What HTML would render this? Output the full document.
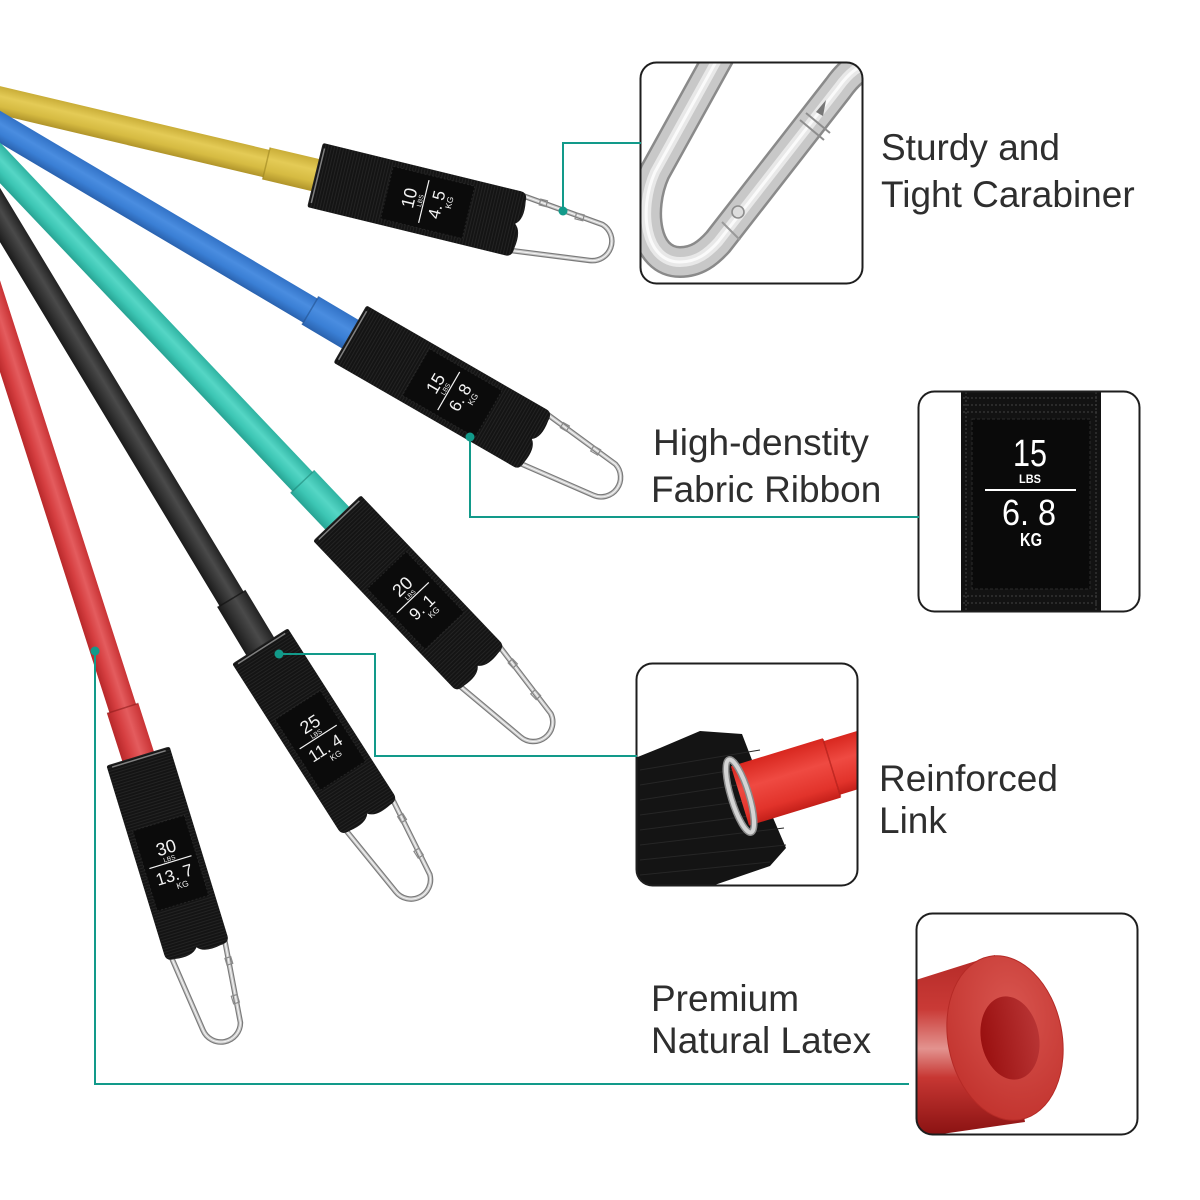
<!DOCTYPE html>
<html>
<head>
<meta charset="utf-8">
<style>
  html,body{margin:0;padding:0;background:#fff;}
  svg{display:block;}
  text{font-family:"Liberation Sans",Arial,sans-serif;}
</style>
</head>
<body>
<svg width="1200" height="1200" viewBox="0 0 1200 1200" xmlns="http://www.w3.org/2000/svg">
  <defs>
    <linearGradient id="gY" x1="0" y1="0" x2="0" y2="1">
      <stop offset="0" stop-color="#c9ad38"/><stop offset=".35" stop-color="#e4cb56"/>
      <stop offset=".7" stop-color="#d6bb42"/><stop offset="1" stop-color="#b0942a"/>
    </linearGradient>
    <linearGradient id="gB" x1="0" y1="0" x2="0" y2="1">
      <stop offset="0" stop-color="#3272c6"/><stop offset=".4" stop-color="#4a8de0"/>
      <stop offset=".7" stop-color="#3a7fd5"/><stop offset="1" stop-color="#2a62ae"/>
    </linearGradient>
    <linearGradient id="gT" x1="0" y1="0" x2="0" y2="1">
      <stop offset="0" stop-color="#2fb3a2"/><stop offset=".4" stop-color="#55d6c5"/>
      <stop offset=".7" stop-color="#3cc6b4"/><stop offset="1" stop-color="#27a393"/>
    </linearGradient>
    <linearGradient id="gK" x1="0" y1="0" x2="0" y2="1">
      <stop offset="0" stop-color="#222"/><stop offset=".4" stop-color="#4a4a4a"/>
      <stop offset=".7" stop-color="#333"/><stop offset="1" stop-color="#1a1a1a"/>
    </linearGradient>
    <linearGradient id="gR" x1="0" y1="0" x2="0" y2="1">
      <stop offset="0" stop-color="#c93234"/><stop offset=".4" stop-color="#e45c5e"/>
      <stop offset=".7" stop-color="#d63f41"/><stop offset="1" stop-color="#b8282a"/>
    </linearGradient>
    <pattern id="rib" width="3" height="6" patternUnits="userSpaceOnUse">
      <rect width="3" height="6" fill="#141414"/>
      <rect width="1" height="6" fill="#232323"/>
    </pattern>
    <g id="cara">
      <path d="M-12,28 L76,18 A19.5,19.5 0 0 0 80,-20 L-12,-30" fill="none" stroke="#7a7a7a" stroke-width="5.5" stroke-linejoin="round"/>
      <path d="M-12,28 L76,18 A19.5,19.5 0 0 0 80,-20 L-12,-30" fill="none" stroke="#c9c9c9" stroke-width="3.2" stroke-linejoin="round"/>
      <path d="M-12,28 L76,18 A19.5,19.5 0 0 0 80,-20 L-12,-30" fill="none" stroke="#f4f4f4" stroke-width="1" stroke-linejoin="round"/>
      <rect x="52" y="-25" width="8" height="6" fill="none" stroke="#8a8a8a" stroke-width="1.2"/>
      <rect x="14" y="-30" width="7" height="6" fill="none" stroke="#8a8a8a" stroke-width="1.2"/>
    </g>
    <clipPath id="c1"><rect x="641" y="63" width="221" height="220" rx="15"/></clipPath>
    <clipPath id="c2"><rect x="919" y="392" width="220" height="219" rx="15"/></clipPath>
    <clipPath id="c3"><rect x="637" y="664" width="220" height="221" rx="15"/></clipPath>
    <clipPath id="c4"><rect x="917" y="914" width="220" height="220" rx="15"/></clipPath>
    <linearGradient id="b4body" gradientUnits="userSpaceOnUse" x1="0" y1="955" x2="0" y2="1135">
      <stop offset="0" stop-color="#b52a27"/><stop offset=".3" stop-color="#c93a36"/>
      <stop offset=".52" stop-color="#e3938f"/><stop offset=".68" stop-color="#c73733"/>
      <stop offset="1" stop-color="#8a1212"/>
    </linearGradient>
    <radialGradient id="b4face" cx=".6" cy=".35" r=".7">
      <stop offset="0" stop-color="#d8554f"/><stop offset="1" stop-color="#c2332e"/>
    </radialGradient>
    <linearGradient id="b4hole" x1="0" y1="0" x2="1" y2="0">
      <stop offset="0" stop-color="#9a1010"/><stop offset="1" stop-color="#b83434"/>
    </linearGradient>
    <linearGradient id="b3tube" x1="0" y1="0" x2="0" y2="1">
      <stop offset="0" stop-color="#d8271f"/><stop offset=".4" stop-color="#ef4a42"/>
      <stop offset=".8" stop-color="#e2332b"/><stop offset="1" stop-color="#c41f19"/>
    </linearGradient>
  </defs>

  <!-- ============ TUBES ============ -->
  <g transform="translate(315,175) rotate(13.3)">
    <rect x="-600" y="-14" width="602" height="28" fill="url(#gY)"/>
    <rect x="-50" y="-16.5" width="52" height="33" fill="url(#gY)"/>
    <line x1="-50" y1="-16.5" x2="-50" y2="16.5" stroke="#9d8520" stroke-width="1.5" opacity=".6"/>
  </g>
  <g transform="translate(350,334) rotate(30.6)">
    <rect x="-600" y="-14" width="602" height="28" fill="url(#gB)"/>
    <rect x="-46" y="-16.5" width="48" height="33" fill="url(#gB)"/>
    <line x1="-46" y1="-16.5" x2="-46" y2="16.5" stroke="#23528f" stroke-width="1.5" opacity=".6"/>
  </g>
  <g transform="translate(337,518) rotate(46.5)">
    <rect x="-600" y="-14" width="602" height="28" fill="url(#gT)"/>
    <rect x="-50" y="-16.5" width="52" height="33" fill="url(#gT)"/>
    <line x1="-50" y1="-16.5" x2="-50" y2="16.5" stroke="#1f8779" stroke-width="1.5" opacity=".6"/>
  </g>
  <g transform="translate(260,646) rotate(58.9)">
    <rect x="-600" y="-14" width="602" height="28" fill="url(#gK)"/>
    <rect x="-55" y="-16.5" width="57" height="33" fill="url(#gK)"/>
    <line x1="-55" y1="-16.5" x2="-55" y2="16.5" stroke="#111" stroke-width="1.5" opacity=".7"/>
  </g>
  <g transform="translate(138,756) rotate(72.2)">
    <rect x="-600" y="-14" width="602" height="28" fill="url(#gR)"/>
    <rect x="-50" y="-16.5" width="52" height="33" fill="url(#gR)"/>
    <line x1="-50" y1="-16.5" x2="-50" y2="16.5" stroke="#8f1c1c" stroke-width="1.5" opacity=".6"/>
  </g>

  <!-- ============ SLEEVES ============ -->
  <!-- sleeve 1 -->
  <g transform="translate(315,175) rotate(13.7)">
    <use href="#cara" transform="translate(211,0)"/>
    <path d="M2,-33 L204,-33 Q211,-33 211,-24 Q214,-6 206,0 Q214,6 211,24 Q211,33 204,33 L2,33 Q0,33 0,30 L0,-30 Q0,-33 2,-33 Z" fill="url(#rib)"/>
    <rect x="74" y="-27" width="84" height="54" fill="#0b0b0b" stroke="#262626" stroke-width="1" stroke-dasharray="2 2"/>
    <line x1="3" y1="-28" x2="3" y2="28" stroke="#aaa" stroke-width="1.5" opacity=".7"/>
    <g transform="translate(112,0) rotate(-90)" fill="#f3f3f3">
      <text x="0" y="-9" font-size="18" text-anchor="middle">10</text>
      <text x="0" y="-1.5" font-size="6.5" text-anchor="middle">LBS</text>
      <line x1="-22" y1="0" x2="22" y2="0" stroke="#f3f3f3" stroke-width="1.2"/>
      <text x="0" y="19" font-size="17" text-anchor="middle">4. 5</text>
      <text x="5" y="28" font-size="8.5" text-anchor="middle">KG</text>
    </g>
  </g>
  <!-- sleeve 2 -->
  <g transform="translate(350,334) rotate(30)">
    <use href="#cara" transform="translate(215,0)"/>
    <path d="M2,-33 L208,-33 Q215,-33 215,-24 Q218,-6 210,0 Q218,6 215,24 Q215,33 208,33 L2,33 Q0,33 0,30 L0,-30 Q0,-33 2,-33 Z" fill="url(#rib)"/>
    <rect x="76" y="-27" width="84" height="54" fill="#0b0b0b" stroke="#262626" stroke-width="1" stroke-dasharray="2 2"/>
    <line x1="3" y1="-28" x2="3" y2="28" stroke="#aaa" stroke-width="1.5" opacity=".7"/>
    <g transform="translate(114,0) rotate(-90)" fill="#f3f3f3">
      <text x="0" y="-9" font-size="18" text-anchor="middle">15</text>
      <text x="0" y="-1.5" font-size="6.5" text-anchor="middle">LBS</text>
      <line x1="-22" y1="0" x2="22" y2="0" stroke="#f3f3f3" stroke-width="1.2"/>
      <text x="0" y="19" font-size="17" text-anchor="middle">6. 8</text>
      <text x="5" y="28" font-size="8.5" text-anchor="middle">KG</text>
    </g>
  </g>
  <!-- sleeve 3 -->
  <g transform="translate(337,518) rotate(46.4)">
    <use href="#cara" transform="translate(209,0)"/>
    <path d="M2,-33 L202,-33 Q209,-33 209,-24 Q212,-6 204,0 Q212,6 209,24 Q209,33 202,33 L2,33 Q0,33 0,30 L0,-30 Q0,-33 2,-33 Z" fill="url(#rib)"/>
    <rect x="72" y="-27" width="84" height="54" fill="#0b0b0b" stroke="#262626" stroke-width="1" stroke-dasharray="2 2"/>
    <line x1="3" y1="-28" x2="3" y2="28" stroke="#aaa" stroke-width="1.5" opacity=".7"/>
    <g transform="translate(110,0) rotate(-90)" fill="#f3f3f3">
      <text x="0" y="-9" font-size="18" text-anchor="middle">20</text>
      <text x="0" y="-1.5" font-size="6.5" text-anchor="middle">LBS</text>
      <line x1="-22" y1="0" x2="22" y2="0" stroke="#f3f3f3" stroke-width="1.2"/>
      <text x="0" y="19" font-size="17" text-anchor="middle">9. 1</text>
      <text x="5" y="28" font-size="8.5" text-anchor="middle">KG</text>
    </g>
  </g>
  <!-- sleeve 4 -->
  <g transform="translate(260,646) rotate(57.4)">
    <use href="#cara" transform="translate(204,0)"/>
    <path d="M2,-33 L197,-33 Q204,-33 204,-24 Q207,-6 199,0 Q207,6 204,24 Q204,33 197,33 L2,33 Q0,33 0,30 L0,-30 Q0,-33 2,-33 Z" fill="url(#rib)"/>
    <rect x="70" y="-27" width="84" height="54" fill="#0b0b0b" stroke="#262626" stroke-width="1" stroke-dasharray="2 2"/>
    <line x1="3" y1="-28" x2="3" y2="28" stroke="#aaa" stroke-width="1.5" opacity=".7"/>
    <g transform="translate(108,0) rotate(-90)" fill="#f3f3f3">
      <text x="0" y="-9" font-size="18" text-anchor="middle">25</text>
      <text x="0" y="-1.5" font-size="6.5" text-anchor="middle">LBS</text>
      <line x1="-22" y1="0" x2="22" y2="0" stroke="#f3f3f3" stroke-width="1.2"/>
      <text x="0" y="19" font-size="17" text-anchor="middle">11. 4</text>
      <text x="5" y="28" font-size="8.5" text-anchor="middle">KG</text>
    </g>
  </g>
  <!-- sleeve 5 -->
  <g transform="translate(138,756) rotate(73)">
    <use href="#cara" transform="translate(205,0)"/>
    <path d="M2,-33 L198,-33 Q205,-33 205,-24 Q208,-6 200,0 Q208,6 205,24 Q205,33 198,33 L2,33 Q0,33 0,30 L0,-30 Q0,-33 2,-33 Z" fill="url(#rib)"/>
    <rect x="70" y="-27" width="84" height="54" fill="#0b0b0b" stroke="#262626" stroke-width="1" stroke-dasharray="2 2"/>
    <line x1="3" y1="-28" x2="3" y2="28" stroke="#aaa" stroke-width="1.5" opacity=".7"/>
    <g transform="translate(111,0) rotate(-90)" fill="#f3f3f3">
      <text x="0" y="-9" font-size="18" text-anchor="middle">30</text>
      <text x="0" y="-1.5" font-size="6.5" text-anchor="middle">LBS</text>
      <line x1="-22" y1="0" x2="22" y2="0" stroke="#f3f3f3" stroke-width="1.2"/>
      <text x="0" y="19" font-size="17" text-anchor="middle">13. 7</text>
      <text x="5" y="28" font-size="8.5" text-anchor="middle">KG</text>
    </g>
  </g>

  <!-- ============ CALLOUT BOX 1 : carabiner ============ -->
  <g clip-path="url(#c1)">
    <rect x="641" y="63" width="221" height="220" fill="#fff"/>
    <path d="M728,40 L655,172 C638,210 645,262 680,262 C697,262 708,253 718,242 L838,88 C848,74 858,64 880,60" fill="none" stroke="#8a8a8a" stroke-width="32" stroke-linecap="round" stroke-linejoin="round"/>
    <path d="M728,40 L655,172 C638,210 645,262 680,262 C697,262 708,253 718,242 L838,88 C848,74 858,64 880,60" fill="none" stroke="#c8c8c8" stroke-width="27" stroke-linecap="round" stroke-linejoin="round"/>
    <path d="M728,40 L655,172 C638,210 645,262 680,262 C697,262 708,253 718,242 L838,88 C848,74 858,64 880,60" fill="none" stroke="#e8e8e8" stroke-width="10" stroke-linecap="round" stroke-linejoin="round"/>
    <path d="M728,40 L655,172 C638,210 645,262 680,262 C697,262 708,253 718,242 L838,88 C848,74 858,64 880,60" fill="none" stroke="#fafafa" stroke-width="3" stroke-linecap="round" stroke-linejoin="round"/>
    <line x1="800" y1="120" x2="824" y2="140" stroke="#8d8d8d" stroke-width="2"/>
    <line x1="806" y1="113" x2="830" y2="133" stroke="#8d8d8d" stroke-width="2"/>
    <path d="M816,112 L826,100 L823,116 Z" fill="#777"/>
    <circle cx="738" cy="212" r="6" fill="#ddd" stroke="#8d8d8d" stroke-width="1.6"/>
    <line x1="722" y1="222" x2="740" y2="240" stroke="#999" stroke-width="2"/>
  </g>
  <rect x="640.5" y="62.5" width="222" height="221" rx="16" fill="none" stroke="#1e1e1e" stroke-width="2"/>

  <!-- ============ CALLOUT BOX 2 : fabric ribbon ============ -->
  <g clip-path="url(#c2)">
    <rect x="919" y="392" width="220" height="219" fill="#fff"/>
    <rect x="961" y="385" width="140" height="235" fill="#121212"/>
    <g stroke="#3a3a3a" stroke-width="1.2" stroke-dasharray="2 2">
      <line x1="963" y1="398" x2="1099" y2="398"/>
      <line x1="963" y1="405" x2="1099" y2="405"/>
      <line x1="963" y1="412" x2="1099" y2="412"/>
      <line x1="963" y1="596" x2="1099" y2="596"/>
      <line x1="963" y1="603" x2="1099" y2="603"/>
      <line x1="966" y1="392" x2="966" y2="611"/>
      <line x1="1096" y1="392" x2="1096" y2="611"/>
    </g>
    <rect x="972" y="419" width="118" height="170" fill="#0a0a0a" stroke="#2c2c2c" stroke-width="1" stroke-dasharray="3 2"/>
    <text x="1030" y="466" font-size="38" fill="#fff" text-anchor="middle" textLength="34" lengthAdjust="spacingAndGlyphs">15</text>
    <text x="1030" y="483" font-size="12" fill="#fff" text-anchor="middle" textLength="22" lengthAdjust="spacingAndGlyphs" font-weight="bold">LBS</text>
    <line x1="985" y1="490" x2="1076" y2="490" stroke="#fff" stroke-width="2"/>
    <text x="1029" y="525" font-size="36" fill="#fff" text-anchor="middle" textLength="54" lengthAdjust="spacingAndGlyphs">6. 8</text>
    <text x="1031" y="546" font-size="18" fill="#fff" text-anchor="middle" textLength="22" lengthAdjust="spacingAndGlyphs" font-weight="bold">KG</text>
  </g>
  <rect x="918.5" y="391.5" width="221" height="220" rx="16" fill="none" stroke="#1e1e1e" stroke-width="2"/>

  <!-- ============ CALLOUT BOX 3 : reinforced link ============ -->
  <g clip-path="url(#c3)">
    <rect x="637" y="664" width="220" height="221" fill="#fff"/>
    <path d="M630,760 L660,748 L700,731 L742,734 L752,760 L762,792 L786,848 L770,866 L700,890 L630,890 Z" fill="#141414"/>
    <g stroke="#262626" stroke-width="1">
      <line x1="640" y1="770" x2="760" y2="750"/>
      <line x1="640" y1="785" x2="765" y2="765"/>
      <line x1="640" y1="800" x2="770" y2="780"/>
      <line x1="640" y1="815" x2="775" y2="797"/>
      <line x1="640" y1="830" x2="780" y2="812"/>
      <line x1="640" y1="845" x2="784" y2="828"/>
      <line x1="640" y1="860" x2="786" y2="845"/>
      <line x1="640" y1="875" x2="770" y2="862"/>
    </g>
    <g transform="translate(740,796) rotate(-17)">
      <rect x="0" y="-31" width="96" height="62" fill="url(#b3tube)"/>
      <rect x="96" y="-28" width="60" height="56" fill="url(#b3tube)"/>
      <line x1="96" y1="-30" x2="96" y2="30" stroke="#b01a15" stroke-width="1.5" opacity=".7"/>
      <ellipse cx="0" cy="0" rx="9" ry="38" fill="none" stroke="#8a8a8a" stroke-width="7"/>
      <ellipse cx="0" cy="0" rx="9" ry="38" fill="none" stroke="#d4d4d4" stroke-width="4"/>
    </g>
  </g>
  <rect x="636.5" y="663.5" width="221" height="222" rx="16" fill="none" stroke="#1e1e1e" stroke-width="2"/>

  <!-- ============ CALLOUT BOX 4 : latex ============ -->
  <g clip-path="url(#c4)">
    <rect x="917" y="914" width="220" height="220" fill="#fff"/>
    <path d="M900,985 L995,955 L1025,1122 L900,1140 Z" fill="url(#b4body)"/>
    <ellipse cx="1005" cy="1038" rx="57" ry="83" transform="rotate(-11 1005 1038)" fill="url(#b4face)" stroke="#b52a26" stroke-width="1"/>
    <ellipse cx="1010" cy="1038" rx="29" ry="42" transform="rotate(-11 1010 1038)" fill="url(#b4hole)"/>
  </g>
  <rect x="916.5" y="913.5" width="221" height="221" rx="16" fill="none" stroke="#1e1e1e" stroke-width="2"/>

  <!-- ============ CONNECTORS ============ -->
  <g stroke="#129a8a" stroke-width="2" fill="none">
    <polyline points="563,211 563,143 641,143"/>
    <polyline points="470,437 470,517 919,517"/>
    <polyline points="279,654 375,654 375,756 637,756"/>
    <polyline points="95,651 95,1084 909,1084"/>
  </g>
  <g fill="#129a8a">
    <circle cx="563" cy="211" r="4.5"/>
    <circle cx="470" cy="437" r="4.5"/>
    <circle cx="279" cy="654" r="4.5"/>
    <circle cx="95" cy="651" r="4.5"/>
  </g>

  <!-- ============ LABELS ============ -->
  <g font-size="37" fill="#2e2e2e">
    <text x="881" y="160">Sturdy and</text>
    <text x="881" y="207">Tight Carabiner</text>
    <text x="653" y="455">High-denstity</text>
    <text x="651" y="502">Fabric Ribbon</text>
    <text x="879" y="791">Reinforced</text>
    <text x="879" y="833">Link</text>
    <text x="651" y="1011">Premium</text>
    <text x="651" y="1053">Natural Latex</text>
  </g>
</svg>
</body>
</html>
